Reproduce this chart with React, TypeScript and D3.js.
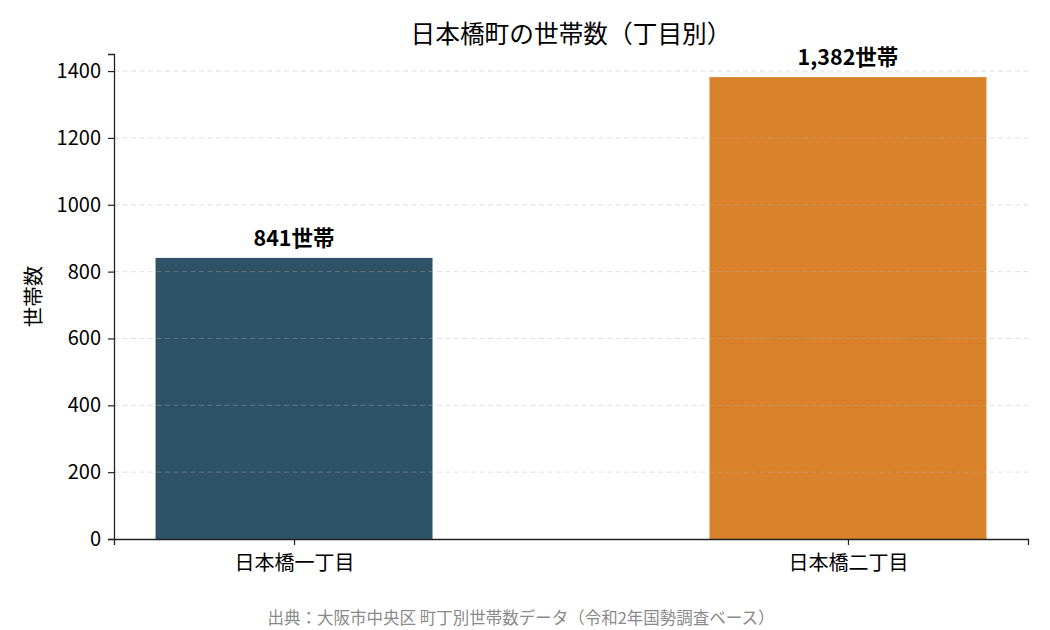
import React, { useEffect, useRef } from "react";
import * as d3 from "d3";

const categories = ["日本橋一丁目", "日本橋二丁目"];
const households = [841, 1382];
const barColors = ["#2e5366", "#d9822b"];
const yTicks = [0, 200, 400, 600, 800, 1000, 1200, 1400];

const title = "日本橋町の世帯数（丁目別）";
const yLabel = "世帯数";
const source = "出典：大阪市中央区 町丁別世帯数データ（令和2年国勢調査ベース）";

const W = 1050;
const H = 630;
const FONT = "'Noto Sans CJK JP', 'Noto Sans', sans-serif";

const App: React.FC = () => {
  const svgRef = useRef<SVGSVGElement | null>(null);

  useEffect(() => {
    const margin = { top: 54, right: 22, bottom: 91, left: 114 };
    const innerW = W - margin.left - margin.right;
    const innerH = H - margin.top - margin.bottom;

    const svg = d3.select(svgRef.current);
    svg.selectAll("*").remove();

    const x = d3.scaleLinear().domain([-0.325, 1.325]).range([0, innerW]);
    const y = d3
      .scaleLinear()
      .domain([0, (d3.max(households) || 0) * 1.05])
      .range([innerH, 0]);
    const barW = x(0.5) - x(0);

    const chart = svg
      .append("g")
      .attr("transform", `translate(${margin.left},${margin.top})`);

    chart
      .selectAll("rect.bar")
      .data(households)
      .enter()
      .append("rect")
      .attr("class", "bar")
      .attr("x", (_, i) => x(i) - barW / 2)
      .attr("y", (d) => y(d))
      .attr("width", barW)
      .attr("height", (d) => innerH - y(d))
      .attr("fill", (_, i) => barColors[i]);

    // dashed grid, drawn over the bars like the original
    chart
      .selectAll("line.grid")
      .data(yTicks.filter((t) => t > 0))
      .enter()
      .append("line")
      .attr("x1", 0)
      .attr("x2", innerW)
      .attr("y1", (d) => y(d))
      .attr("y2", (d) => y(d))
      .attr("stroke", "#b0b0b0")
      .attr("stroke-opacity", 0.4)
      .attr("stroke-dasharray", "5,3.5")
      .attr("stroke-width", 1);

    chart
      .selectAll("text.val")
      .data(households)
      .enter()
      .append("text")
      .attr("x", (_, i) => x(i))
      .attr("y", (d) => y(d) - 12)
      .attr("text-anchor", "middle")
      .attr("font-family", FONT)
      .attr("font-size", 21.5)
      .attr("font-weight", "bold")
      .attr("fill", "#000")
      .text((d) => `${d3.format(",")(d)}世帯`);

    const yAxis = chart
      .append("g")
      .call(
        d3
          .axisLeft(y)
          .tickValues(yTicks)
          .tickFormat(d3.format("d"))
          .tickSizeOuter(0)
          .tickSize(6)
          .tickPadding(7)
      );
    yAxis.select(".domain").attr("stroke", "#222").attr("stroke-width", 1.3);
    yAxis.selectAll(".tick line").attr("stroke", "#222").attr("stroke-width", 1.2);
    yAxis
      .selectAll(".tick text")
      .attr("font-family", FONT)
      .attr("font-size", 20)
      .attr("fill", "#000");

    const xAxis = chart
      .append("g")
      .attr("transform", `translate(0,${innerH})`)
      .call(
        d3
          .axisBottom(x)
          .tickValues(categories.map((_, i) => i))
          .tickFormat((d) => categories[+d])
          .tickSizeOuter(0)
          .tickSize(6)
          .tickPadding(11)
      );
    xAxis.select(".domain").attr("stroke", "#222").attr("stroke-width", 1.3);
    xAxis.selectAll(".tick line").attr("stroke", "#222").attr("stroke-width", 1.2);
    xAxis
      .selectAll(".tick text")
      .attr("font-family", FONT)
      .attr("font-size", 20)
      .attr("fill", "#000");

    svg
      .append("text")
      .attr("x", margin.left + innerW / 2)
      .attr("y", 43)
      .attr("text-anchor", "middle")
      .attr("font-family", FONT)
      .attr("font-size", 24.7)
      .attr("fill", "#000")
      .text(title);

    svg
      .append("text")
      .attr("transform", `translate(41,${margin.top + innerH / 2}) rotate(-90)`)
      .attr("text-anchor", "middle")
      .attr("font-family", FONT)
      .attr("font-size", 20.5)
      .attr("fill", "#000")
      .text(yLabel);

    svg
      .append("text")
      .attr("x", W / 2 - 4)
      .attr("y", 624)
      .attr("text-anchor", "middle")
      .attr("font-family", FONT)
      .attr("font-size", 16.5)
      .attr("fill", "#8a8a8a")
      .text(source);
  }, []);

  return (
    <svg
      ref={svgRef}
      width={W}
      height={H}
      style={{ position: "absolute", left: 0, top: 0, background: "#fff" }}
    />
  );
};

export default App;
